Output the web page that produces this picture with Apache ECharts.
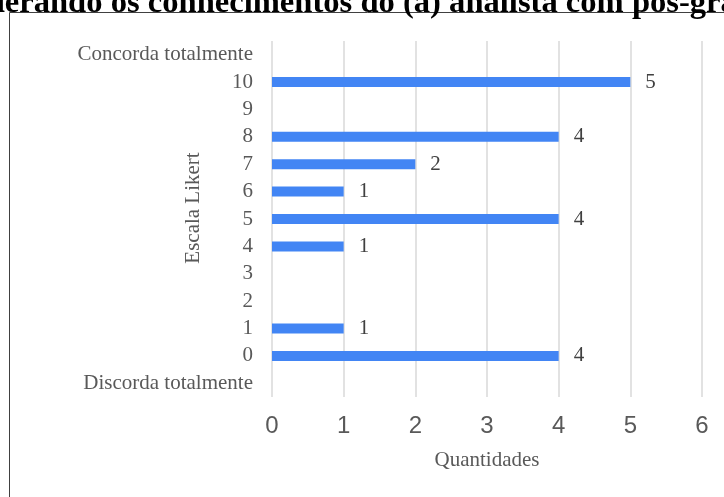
<!DOCTYPE html>
<html>
<head>
<meta charset="utf-8">
<script src="https://cdn.jsdelivr.net/npm/echarts@6/dist/echarts.min.js"></script>
<style>
  html, body { margin: 0; padding: 0; background: #ffffff; }
  #chart { width: 724px; height: 497px; }
</style>
</head>
<body>
<div id="chart"></div>
<script>
// Likert scale categories, bottom to top
const categories = ['Discorda totalmente', '0', '1', '2', '3', '4', '5', '6', '7', '8', '9', '10', 'Concorda totalmente'];
// Number of answers per scale point (null = no answers)
const quantities = [null, 4, 1, null, null, 1, 4, 1, 2, 4, null, 5, null];
// Horizontal axis ticks
const xTicks = [0, 1, 2, 3, 4, 5, 6];

const chartTitle = 'Considerando os conhecimentos do (a) analista com pós-graduação';
const yAxisTitle = 'Escala Likert';
const xAxisTitle = 'Quantidades';

const serif = '"Liberation Serif", "Times New Roman", serif';
const sans = '"Liberation Sans", Arial, sans-serif';

const chart = echarts.init(document.getElementById('chart'), null, { renderer: 'canvas' });

chart.setOption({
  animation: false,
  backgroundColor: '#ffffff',
  graphic: [
    {
      type: 'rect',
      shape: { x: 9.5, y: 12.5, width: 800, height: 600 },
      style: { fill: 'none', stroke: '#404040', lineWidth: 1 },
      z: 0
    },
    {
      type: 'text',
      left: -93,
      top: -13,
      style: {
        text: chartTitle,
        font: 'bold 32.6px ' + serif,
        fill: '#000000'
      },
      z: 10
    },
    {
      type: 'text',
      x: 193,
      y: 208,
      rotation: Math.PI / 2,
      style: {
        text: yAxisTitle,
        font: '21px ' + serif,
        fill: '#595959',
        align: 'center',
        verticalAlign: 'middle'
      },
      z: 10
    }
  ],
  grid: { left: 272, right: 22, top: 41, bottom: 100, containLabel: false },
  xAxis: {
    type: 'value',
    min: xTicks[0],
    max: xTicks[xTicks.length - 1],
    interval: 1,
    name: xAxisTitle,
    nameLocation: 'middle',
    nameGap: 53,
    nameTextStyle: { fontFamily: serif, fontSize: 21, color: '#595959' },
    axisLine: { show: false },
    axisTick: { show: false },
    axisLabel: { fontFamily: sans, fontSize: 24, color: '#595959', margin: 17 },
    splitLine: { show: true, lineStyle: { color: '#d9d9d9', width: 1.5 } }
  },
  yAxis: {
    type: 'category',
    data: categories,
    axisLine: { show: false },
    axisTick: { show: false },
    axisLabel: { fontFamily: serif, fontSize: 21, color: '#595959', margin: 19 },
    splitLine: { show: false }
  },
  series: [
    {
      type: 'bar',
      data: quantities,
      barWidth: 10,
      itemStyle: { color: '#4285f4' },
      label: {
        show: true,
        position: 'right',
        distance: 15,
        fontFamily: serif,
        fontSize: 21,
        color: '#404040'
      },
      z: 5
    }
  ]
});
</script>
</body>
</html>
